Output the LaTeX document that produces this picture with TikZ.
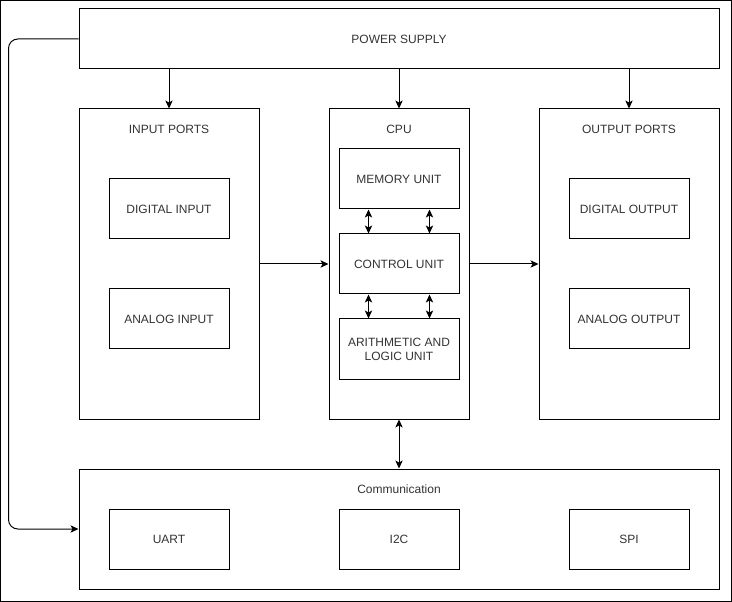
\documentclass[tikz,border=0pt]{standalone}
\usepackage{fontspec}
\setmainfont{Liberation Sans}
\usetikzlibrary{arrows.meta}
\tikzset{
  >={Stealth[length=6pt,width=5.5pt,inset=1.5pt]},
  font=\fontsize{9}{10.5}\selectfont,
  block/.style ={draw, line width=0.75pt, inner sep=0pt},
  unit/.style  ={draw, line width=0.75pt, inner sep=0pt, minimum width=90pt, minimum height=45pt, align=center, text=black!80},
  ttl/.style   ={text=black!80},
  arr/.style   ={->, line width=0.75pt},
  darr/.style  ={<->, line width=0.75pt},
}
\begin{document}
\begin{tikzpicture}[x=0.75pt, y=-0.75pt]
  \useasboundingbox (0,0) rectangle (732,602);
  \draw[line width=0.75pt] (0.5,0.5) rectangle (731.5,601.5);
  % outer blocks
  \node[block, minimum width=480pt, minimum height=45pt, text=black!80] (pw) at (399,39) {POWER SUPPLY};
  \node[block, minimum width=135pt, minimum height=232.5pt] (in) at (169,264) {};
  \node[block, minimum width=105pt, minimum height=232.5pt] (cpu) at (399,264) {};
  \node[block, minimum width=135pt, minimum height=232.5pt] (out) at (629,264) {};
  \node[block, minimum width=480pt, minimum height=90pt] (com) at (399,529) {};
  \node[ttl] (inT) at (169,129) {INPUT PORTS};
  \node[ttl] (cpuT) at (399,129) {CPU};
  \node[ttl] (outT) at (629,129) {OUTPUT PORTS};
  \node[ttl] (comT) at (399,489) {Communication};
  % inner units
  \node[unit] (din) at (169,209) {DIGITAL INPUT};
  \node[unit] (ain) at (169,319) {ANALOG INPUT};
  \node[unit] (mem) at (399,179) {MEMORY UNIT};
  \node[unit] (cu) at (399,264) {CONTROL UNIT};
  \node[unit] (alu) at (399,349) {ARITHMETIC AND\\LOGIC UNIT};
  \node[unit] (dout) at (629,209) {DIGITAL OUTPUT};
  \node[unit] (aout) at (629,319) {ANALOG OUTPUT};
  \foreach \x/\nm/\txt in {169/uart/UART, 399/i2c/I2C, 629/spi/SPI}
    \node[unit] (\nm) at (\x,539) {\txt};
  % power lines
  \draw[arr] (in.north |- pw.south) -- (in.north);
  \draw[arr] (cpu.north |- pw.south) -- (cpu.north);
  \draw[arr] (out.north |- pw.south) -- (out.north);
  \draw[arr, rounded corners=7pt] (pw.west) -- ++(-70,0) |- (com.west);
  % data paths
  \draw[arr] (in.east) -- (cpu.west);
  \draw[arr] (cpu.east) -- (out.west);
  \draw[darr] ([xshift=22.5pt]mem.south west) -- ([xshift=22.5pt]cu.north west);
  \draw[darr] ([xshift=-22.5pt]mem.south east) -- ([xshift=-22.5pt]cu.north east);
  \draw[darr] ([xshift=22.5pt]cu.south west) -- ([xshift=22.5pt]alu.north west);
  \draw[darr] ([xshift=-22.5pt]cu.south east) -- ([xshift=-22.5pt]alu.north east);
  \draw[darr] (cpu.south) -- (cpu.south |- com.north);
\end{tikzpicture}
\end{document}
